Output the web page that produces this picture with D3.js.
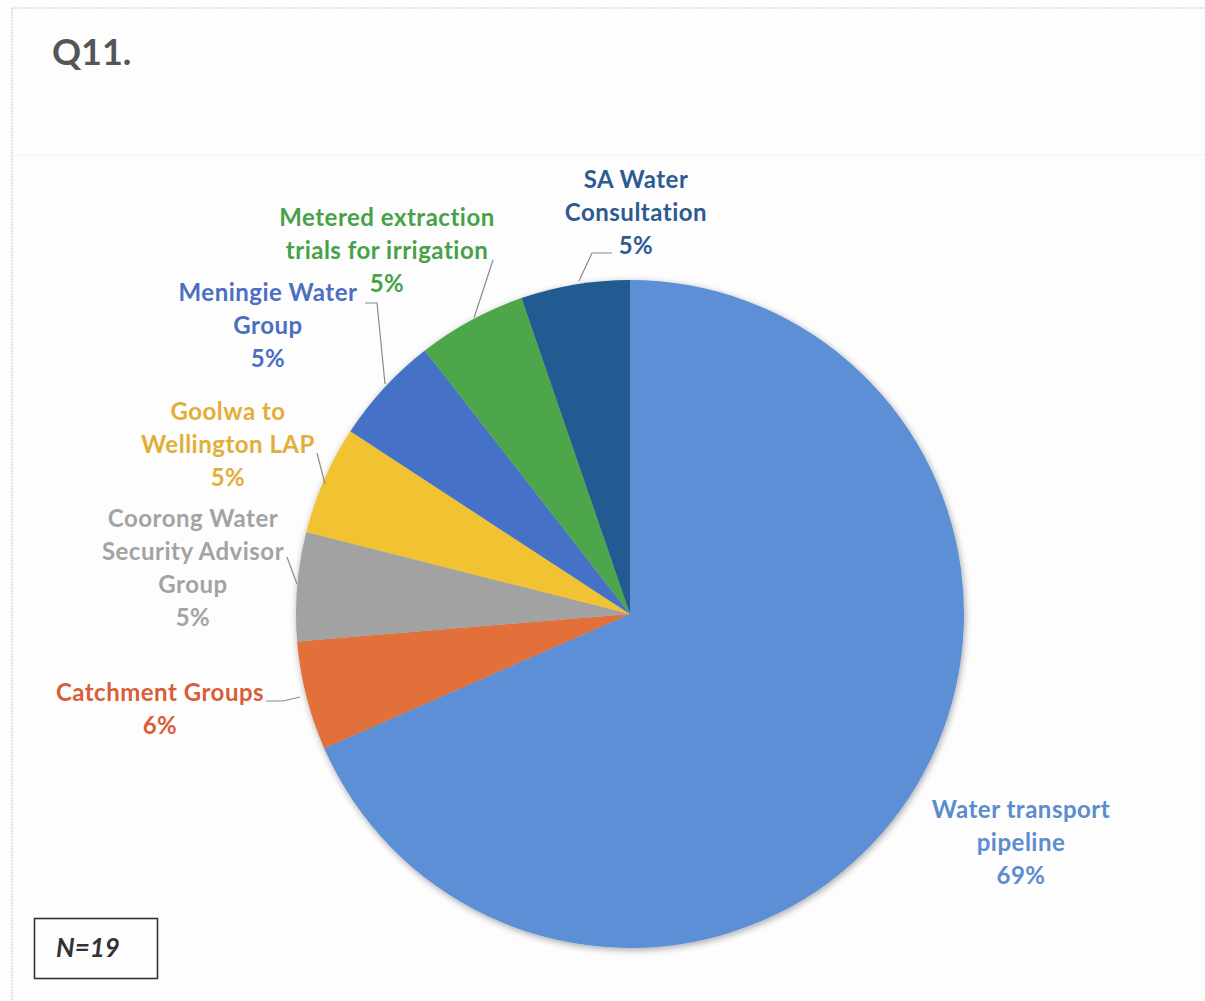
<!DOCTYPE html>
<html>
<head>
<meta charset="utf-8">
<script src="https://cdn.jsdelivr.net/npm/d3@7"></script>
<style>
  html, body { margin: 0; padding: 0; background: #fdfdfd; }
  svg { display: block; }
  text { font-family: Lato, "Open Sans", sans-serif; }
</style>
</head>
<body>
<script>
// ---- data ----
const categories = [
  "Water transport pipeline",
  "Catchment Groups",
  "Coorong Water Security Advisor Group",
  "Goolwa to Wellington LAP",
  "Meningie Water Group",
  "Metered extraction trials for irrigation",
  "SA Water Consultation"
];
const responses = [13, 1, 1, 1, 1, 1, 1];          // N = 19
const percentLabels = ["69%", "6%", "5%", "5%", "5%", "5%", "5%"];
const labelLines = [
  ["Water transport", "pipeline"],
  ["Catchment Groups"],
  ["Coorong Water", "Security Advisor", "Group"],
  ["Goolwa to", "Wellington LAP"],
  ["Meningie Water", "Group"],
  ["Metered extraction", "trials for irrigation"],
  ["SA Water", "Consultation"]
];
const sampleSize = "N=19";
const titleText = "Q11.";

// ---- styles ----
const sliceColors = ["#5b8fd5", "#e1703b", "#a2a2a2", "#f1c232", "#4571c6", "#4ea64a", "#245a92"];
const textColors  = ["#5a8ccf", "#d95d36", "#a3a3a3", "#e3ae38", "#4a6fc2", "#47a147", "#2d5b91"];

const W = 1205, H = 1001;
const cx = 630, cy = 614, R = 334;

const svg = d3.select("body").append("svg").attr("width", W).attr("height", H);

// frame
svg.append("rect").attr("x", 0).attr("y", 0).attr("width", W).attr("height", H).attr("fill", "#fdfdfd");
svg.append("line").attr("x1", 12).attr("x2", W).attr("y1", 8).attr("y2", 8)
  .attr("stroke", "#c8c8c8").attr("stroke-width", 1).attr("stroke-dasharray", "2,1");
svg.append("line").attr("x1", 12).attr("x2", 12).attr("y1", 8).attr("y2", H)
  .attr("stroke", "#c8c8c8").attr("stroke-width", 1).attr("stroke-dasharray", "2,1");
svg.append("line").attr("x1", 12).attr("x2", W).attr("y1", 155).attr("y2", 155)
  .attr("stroke", "#f7eef1").attr("stroke-width", 1);

// title
svg.append("text").attr("x", 52).attr("y", 65).text(titleText)
  .attr("font-size", 36).attr("font-weight", 700).attr("fill", "#555555");

// shadow filter
const defs = svg.append("defs");
const f = defs.append("filter").attr("id", "shadow").attr("x", "-10%").attr("y", "-10%").attr("width", "120%").attr("height", "120%");
f.append("feGaussianBlur").attr("in", "SourceAlpha").attr("stdDeviation", 3.5).attr("result", "b");
f.append("feOffset").attr("in", "b").attr("dx", 1).attr("dy", 2).attr("result", "o");
f.append("feComponentTransfer").attr("in", "o").attr("result", "s")
  .append("feFuncA").attr("type", "linear").attr("slope", 0.35);
const fm = f.append("feMerge");
fm.append("feMergeNode").attr("in", "s");
fm.append("feMergeNode").attr("in", "SourceGraphic");

// pie
const pie = d3.pie().sort(null).value(d => d)(responses);
const arc = d3.arc().innerRadius(0).outerRadius(R);
const g = svg.append("g").attr("transform", `translate(${cx},${cy})`);
const pg = g.append("g").attr("filter", "url(#shadow)");
pg.selectAll("path").data(pie).join("path")
  .attr("d", arc)
  .attr("fill", (d, i) => sliceColors[i]);

// label placement (centre x, first line centre y) and leader polylines
const labelPos = [
  [1021, 810],
  [160, 693],
  [193, 519],
  [228, 412],
  [268, 293],
  [387, 218],
  [636, 180]
];
const leaders = [
  null,
  [[266, 701], [283, 701], [300, 697]],
  [[287, 557], [297, 584]],
  [[317, 453], [325, 484]],
  [[365, 303], [377, 303], [385, 384]],
  [[493, 260], [474, 318]],
  [[612, 253], [592, 253], [579, 281]]
];
const lineGap = 32.7;

leaders.forEach(pts => {
  if (!pts) return;
  svg.append("path").attr("d", d3.line()(pts))
    .attr("fill", "none").attr("stroke", "#8a8a8a").attr("stroke-width", 1.2);
});

labelLines.forEach((lines, i) => {
  const [lx, ly] = labelPos[i];
  const t = svg.append("text")
    .attr("text-anchor", "middle")
    .attr("font-size", 24).attr("font-weight", 700)
    .attr("letter-spacing", "0.5px")
    .attr("fill", textColors[i]);
  const all = lines.concat([percentLabels[i]]);
  all.forEach((s, k) => {
    t.append("tspan").attr("x", lx).attr("y", ly + k * lineGap).attr("dy", "0.35em").text(s);
  });
});

// N box
svg.append("rect").attr("x", 34.5).attr("y", 918.5).attr("width", 123).attr("height", 60)
  .attr("fill", "none").attr("stroke", "#333333").attr("stroke-width", 1.6);
svg.append("text").attr("x", 56).attr("y", 957).text(sampleSize)
  .attr("font-size", 26).attr("font-weight", 700).attr("font-style", "italic").attr("fill", "#333333");
</script>
</body>
</html>
